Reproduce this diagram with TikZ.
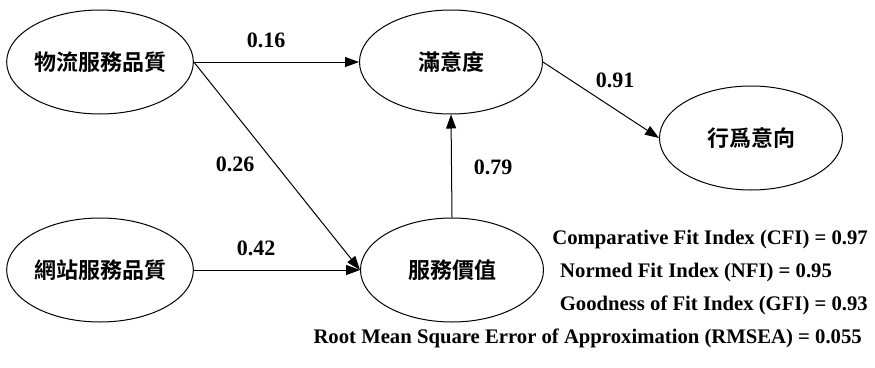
\documentclass[tikz,border=0pt]{standalone}
\usepackage{fontspec}
\setmainfont{Liberation Serif}
\newfontfamily\cjk{Noto Sans CJK TC}[BoldFont={* Bold}]
\usetikzlibrary{arrows.meta,shapes.geometric}
\begin{document}
\begin{tikzpicture}[x=1pt,y=-1pt,
  latent/.style={draw,line width=1pt,ellipse,minimum width=183pt,minimum height=104pt,inner sep=0pt,font=\cjk\bfseries\fontsize{22}{24}\selectfont},
  path/.style={line width=1pt,-{Triangle[length=14pt,width=10pt]}},
  coef/.style={font=\bfseries\fontsize{22}{24}\selectfont},
  fit/.style={font=\bfseries\fontsize{20.7}{23}\selectfont,inner sep=0pt}]
\useasboundingbox (0,0) rectangle (875,367);
\node[latent] (lq) at (100,62) {物流服務品質};
\node[latent] (wq) at (100,270) {網站服務品質};
\node[latent] (sat) at (451,62) {滿意度};
\node[latent] (val) at (452,270) {服務價值};
\node[latent] (bi) at (751,138) {行爲意向};
\draw[path] (lq.east) -- (sat.west);
\draw[path] (lq.east) -- (val.west);
\draw[path] (wq.east) -- (val.west);
\draw[path] (val.north) -- (sat.south);
\draw[path] (sat.east) -- (bi.west);
\node[coef] (c1) at (266,40) {0.16};
\node[coef] (c2) at (235,164) {0.26};
\node[coef] (c3) at (256,248) {0.42};
\node[coef] (c4) at (493,167) {0.79};
\node[coef] (c5) at (615,80) {0.91};
\node[fit,anchor=east] (f1) at (868,240) {Comparative Fit Index (CFI) = 0.97};
\node[fit,anchor=west] (f2) at (560,273) {Normed Fit Index (NFI) = 0.95};
\node[fit,anchor=east] (f3) at (868,305) {Goodness of Fit Index (GFI) = 0.93};
\node[fit,anchor=east] (f4) at (862,338) {Root Mean Square Error of Approximation (RMSEA) = 0.055};
\end{tikzpicture}
\end{document}
